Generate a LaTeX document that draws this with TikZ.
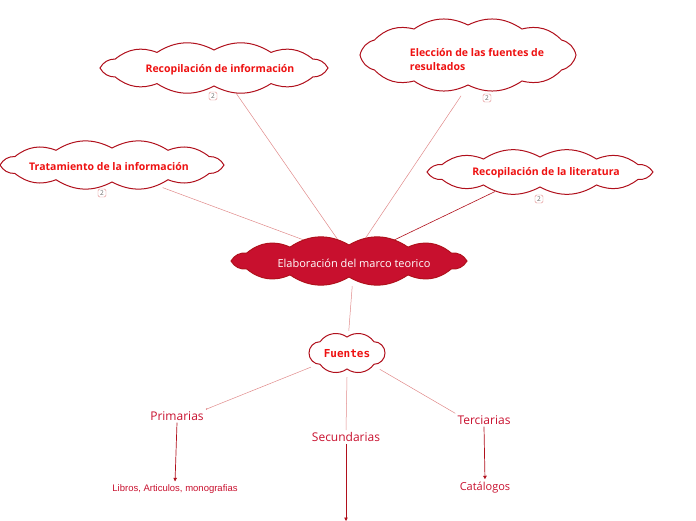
\documentclass[tikz,border=0pt]{standalone}
\usepackage{fontspec}
\setmainfont{Open Sans}
\newfontfamily\arialfont{Liberation Sans}
\newfontfamily\monofont{DejaVu Sans Mono}
\usetikzlibrary{shapes.geometric,arrows.meta,backgrounds}
\definecolor{cloudline}{HTML}{B0101C}
\definecolor{cloudtext}{HTML}{EE1111}
\definecolor{crimson}{HTML}{C8102E}
\definecolor{linkpink}{HTML}{E08A8A}
% bumpy outline round an ellipse: cx, cy, a, b, puffs, bend, style
\newcommand\cloudline[7]{%
  \draw[#7] ({#1+#3},{#2}) \foreach \k in {1,...,#5}{
    to[bend left=#6] ({#1+#3*cos(\k*360/#5)},{#2+#4*sin(\k*360/#5)}) } -- cycle;}

\begin{document}
\begin{tikzpicture}[x=1pt,y=-1pt,
    cloudpath/.style={draw=cloudline, line width=1pt, fill=white},
    cloudlabel/.style={ellipse, inner sep=0pt, text=cloudtext,
        font=\fontsize{10.5}{14}\selectfont\bfseries},
    badge/.style={draw=linkpink, rounded corners=1.5pt, text=black!60, inner sep=0pt,
        minimum size=8pt, font=\fontsize{6.5}{6.5}\selectfont},
    leaf/.style={text=crimson, inner sep=2pt},
    link/.style={draw=linkpink, line width=0.5pt},
    down/.style={draw=cloudline, line width=0.7pt, -{Triangle[length=3.5pt,width=3.5pt]}, shorten >=1pt}]
    \useasboundingbox (0,0) rectangle (696,520);

    % main topic
    \cloudline{349}{261}{118}{16}{12}{32}{cloudpath, fill=crimson}
    \node[cloudlabel, text=white, font=\fontsize{11}{13}\selectfont,
        minimum width=243, minimum height=46] (central) at (354,263) {Elaboración del marco teorico};

    % subtopics round the main topic
    \cloudline{214}{68}{114}{18}{12}{30}{cloudpath}
    \node[cloudlabel, minimum width=236, minimum height=47] (recinfo) at (220,70) {Recopilación de información};

    \cloudline{468}{55}{108}{30}{12}{30}{cloudpath}
    \node[cloudlabel, minimum width=223, minimum height=72, align=left] (eleccion) at (477,60)
        {Elección de las fuentes de\\resultados};

    \cloudline{112}{165}{112}{17}{12}{30}{cloudpath}
    \node[cloudlabel, minimum width=232, minimum height=46] (tratamiento) at (109,167) {Tratamiento de la información};

    \cloudline{540}{172}{113}{15}{12}{30}{cloudpath}
    \node[cloudlabel, minimum width=234, minimum height=41] (literatura) at (546,173) {Recopilación de la literatura};

    \node[badge] (b1) at (213,96) {2};
    \node[badge] (b2) at (487,98) {2};
    \node[badge] (b3) at (102,193) {2};
    \node[badge] (b4) at (539,199) {2};

    % sources
    \cloudline{347}{353}{38}{16}{8}{45}{cloudpath}
    \node[cloudlabel, font=\fontsize{11}{13}\selectfont\monofont\bfseries,
        minimum width=87, minimum height=46] (fuentes) at (347,354) {Fuentes};

    \node[leaf, font=\fontsize{12}{14}\selectfont] (prim) at (177,416) {Primarias};
    \node[leaf, font=\fontsize{12}{14}\selectfont] (sec) at (346,437) {Secundarias};
    \node[leaf, font=\fontsize{12}{14}\selectfont] (terc) at (484,420) {Terciarias};

    \node[leaf, font=\fontsize{9.5}{11}\selectfont\arialfont] (libros) at (175,489) {Libros, Articulos, monografias};
    \node[leaf, font=\fontsize{11}{13}\selectfont] (catalogos) at (485,488) {Catálogos};
    \coordinate (secend) at (346,522);

    \begin{scope}[on background layer]
        \draw[link] (recinfo) -- (central);
        \draw[link] (eleccion.-114) -- (central.66);
        \draw[link] (tratamiento.-21) -- (central.155);
        \draw[draw=cloudline, line width=0.6pt] (literatura.-160) -- (central.30);
        \draw[link] (central) -- (fuentes);
        \draw[link, -{Circle[length=1.5pt]}] (fuentes.-160) -- (prim.north east);
        \draw[link] (fuentes.south) -- (sec.north);
        \draw[link] (fuentes.-25) -- (terc.north west);
    \end{scope}

    \draw[down] (prim.south) -- (libros.north);
    \draw[down] (terc.south) -- (catalogos.north);
    \draw[down] (sec.south) -- (secend);
\end{tikzpicture}
\end{document}
